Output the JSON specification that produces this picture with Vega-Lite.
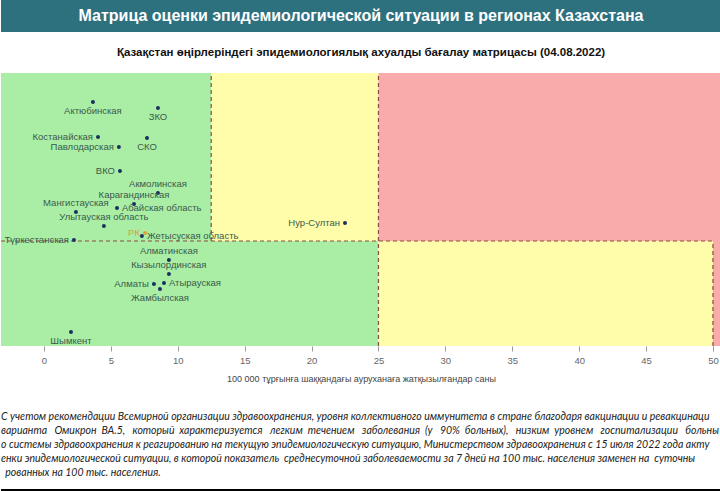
{
  "$schema": "https://vega.github.io/schema/vega-lite/v6.json",
  "padding": 0,
  "spacing": 0,
  "background": "white",
  "config": {"view": {"stroke": null}, "concat": {"spacing": 0}},
  "datasets": {
    "zones": [
      {"zone": "green", "x": -3.21, "x2": 12.5, "y": 21, "y2": 54.6},
      {"zone": "yellow", "x": 12.5, "x2": 25, "y": 21, "y2": 54.6},
      {"zone": "red", "x": 25, "x2": 50.6, "y": 21, "y2": 54.6},
      {"zone": "green", "x": -3.21, "x2": 25, "y": 0, "y2": 21},
      {"zone": "yellow", "x": 25, "x2": 50, "y": 0, "y2": 21},
      {"zone": "red", "x": 50, "x2": 50.6, "y": 0, "y2": 21}
    ],
    "rules": [
      {"x": 12.5, "x2": 12.5, "y": 21, "y2": 54.6},
      {"x": 25, "x2": 25, "y": 0, "y2": 54.6},
      {"x": -3.21, "x2": 50, "y": 21, "y2": 21},
      {"x": 50, "x2": 50, "y": 0, "y2": 21}
    ],
    "points": [
      {"name": "Актюбинская", "x": 3.66, "y": 48.8, "pos": "below", "kind": "region"},
      {"name": "ЗКО", "x": 8.52, "y": 47.6, "pos": "below", "kind": "region"},
      {"name": "Костанайская", "x": 4.04, "y": 41.8, "pos": "left", "kind": "region"},
      {"name": "Павлодарская", "x": 5.6, "y": 39.8, "pos": "left", "kind": "region"},
      {"name": "СКО", "x": 7.7, "y": 41.6, "pos": "below", "kind": "region"},
      {"name": "ВКО", "x": 5.68, "y": 35.0, "pos": "left", "kind": "region"},
      {"name": "Акмолинская", "x": 8.52, "y": 30.6, "pos": "above", "kind": "region"},
      {"name": "Карагандинская", "x": 6.73, "y": 28.4, "pos": "above", "kind": "region"},
      {"name": "Абайская область", "x": 5.46, "y": 27.6, "pos": "right", "kind": "region"},
      {"name": "Мангистауская", "x": 2.39, "y": 26.8, "pos": "above", "kind": "region"},
      {"name": "Улытауская область", "x": 4.48, "y": 24.0, "pos": "above", "kind": "region"},
      {"name": "Түркестанская", "x": 2.24, "y": 21.2, "pos": "left", "kind": "region"},
      {"name": "РК", "x": 7.55, "y": 22.6, "pos": "left", "kind": "rk"},
      {"name": "Жетысуская область", "x": 7.32, "y": 22.0, "pos": "right", "kind": "region"},
      {"name": "Алматинская", "x": 9.34, "y": 17.2, "pos": "above", "kind": "region"},
      {"name": "Кызылординская", "x": 9.34, "y": 14.4, "pos": "above", "kind": "region"},
      {"name": "Атырауская", "x": 8.97, "y": 12.6, "pos": "right", "kind": "region"},
      {"name": "Алматы", "x": 8.22, "y": 12.4, "pos": "left", "kind": "region"},
      {"name": "Жамбылская", "x": 8.67, "y": 11.4, "pos": "below", "kind": "region"},
      {"name": "Шымкент", "x": 2.02, "y": 2.8, "pos": "below", "kind": "region"},
      {"name": "Нур-Султан", "x": 22.5, "y": 24.6, "pos": "left", "kind": "region"}
    ],
    "footer": [
      {"line": 1, "x": 0, "t": "С учетом рекомендации Всемирной организации здравоохранения, уровня коллективного иммунитета в стране благодаря вакцинации и ревакцинаци"},
      {"line": 2, "x": 0, "t": "варианта \u00a0\u00a0Омикрон \u00a0ВА.5, \u00a0\u00a0который \u00a0характеризуется \u00a0\u00a0легким \u00a0течением \u00a0\u00a0заболевания \u00a0(у \u00a0\u00a090% \u00a0больных), \u00a0\u00a0низким \u00a0уровнем \u00a0\u00a0госпитализации \u00a0\u00a0больны"},
      {"line": 3, "x": 0, "t": "о системы здравоохранения к реагированию на текущую эпидемиологическую ситуацию, Министерством здравоохранения с 15 июля 2022 года акту"},
      {"line": 4, "x": 0, "t": "енки эпидемиологической ситуации, в которой показатель \u00a0среднесуточной заболеваемости за 7 дней на 100 тыс. населения заменен на \u00a0суточны"},
      {"line": 5, "x": 0.006, "t": "рованных на 100 тыс. населения."}
    ]
  },
  "vconcat": [
    {
      "width": 720,
      "height": 32,
      "view": {"fill": "#2d717f", "stroke": null},
      "data": {"values": [{"t": "Матрица оценки эпидемиологической ситуации в регионах Казахстана"}]},
      "mark": {"type": "text", "color": "white", "font": "Liberation Sans", "fontWeight": "bold", "fontSize": 16, "baseline": "middle", "align": "center"},
      "encoding": {"text": {"field": "t", "type": "nominal"}}
    },
    {
      "width": 720,
      "height": 14,
      "view": {"fill": "#ffffff", "stroke": null},
      "data": {"values": [{"t": ""}]},
      "mark": {"type": "text"},
      "encoding": {"text": {"field": "t", "type": "nominal"}}
    },
    {
      "width": 720,
      "height": 273,
      "title": {
        "text": "Қазақстан өңірлеріндегі эпидемиологиялық ахуалды бағалау матрицасы  (04.08.2022)",
        "font": "Liberation Sans",
        "fontSize": 11.5,
        "fontWeight": "bold",
        "color": "#111111",
        "anchor": "middle",
        "offset": 14
      },
      "encoding": {
        "x": {
          "field": "x",
          "type": "quantitative",
          "scale": {"domain": [-3.21, 50.6], "nice": false, "zero": false},
          "axis": {
            "values": [0, 5, 10, 15, 20, 25, 30, 35, 40, 45, 50],
            "grid": false,
            "domain": false,
            "ticks": true,
            "tickColor": "#999999",
            "tickSize": 5,
            "labelFont": "Liberation Sans",
            "labelFontSize": 9.5,
            "labelColor": "#666666",
            "labelPadding": 4,
            "title": "100 000 тұрғынға шаққандағы ауруханаға жатқызылғандар саны",
            "titleFont": "Liberation Sans",
            "titleFontSize": 9,
            "titleFontWeight": "normal",
            "titleColor": "#444444",
            "titlePadding": 10
          }
        },
        "y": {
          "field": "y",
          "type": "quantitative",
          "scale": {"domain": [0, 54.6], "nice": false, "zero": false},
          "axis": null
        }
      },
      "layer": [
        {
          "data": {"name": "zones"},
          "mark": {"type": "rect"},
          "encoding": {
            "x2": {"field": "x2"},
            "y2": {"field": "y2"},
            "color": {
              "field": "zone",
              "type": "nominal",
              "scale": {"domain": ["green", "yellow", "red"], "range": ["#aaeea6", "#fffdaa", "#f9aaaa"]},
              "legend": null
            }
          }
        },
        {
          "data": {"name": "rules"},
          "mark": {"type": "rule", "color": "#8b4b40", "strokeWidth": 1.2, "strokeDash": [4, 3]},
          "encoding": {
            "x2": {"field": "x2"},
            "y2": {"field": "y2"}
          }
        },
        {
          "data": {"name": "points"},
          "mark": {"type": "circle", "size": 16, "opacity": 1},
          "encoding": {
            "color": {"condition": {"test": "datum.kind === 'rk'", "value": "#e0a030"}, "value": "#1b2f5e"}
          }
        },
        {
          "data": {"name": "points"},
          "transform": [{"filter": "datum.pos === 'left'"}],
          "mark": {"type": "text", "align": "right", "baseline": "middle", "dx": -5, "font": "Liberation Sans", "fontSize": 9.5},
          "encoding": {
            "text": {"field": "name", "type": "nominal"},
            "color": {"condition": {"test": "datum.kind === 'rk'", "value": "#d9a040"}, "value": "#3a5a4c"}
          }
        },
        {
          "data": {"name": "points"},
          "transform": [{"filter": "datum.pos === 'right'"}],
          "mark": {"type": "text", "align": "left", "baseline": "middle", "dx": 5, "font": "Liberation Sans", "fontSize": 9.5, "color": "#3a5a4c"},
          "encoding": {"text": {"field": "name", "type": "nominal"}}
        },
        {
          "data": {"name": "points"},
          "transform": [{"filter": "datum.pos === 'above'"}],
          "mark": {"type": "text", "align": "center", "baseline": "middle", "dy": -9, "font": "Liberation Sans", "fontSize": 9.5, "color": "#3a5a4c"},
          "encoding": {"text": {"field": "name", "type": "nominal"}}
        },
        {
          "data": {"name": "points"},
          "transform": [{"filter": "datum.pos === 'below'"}],
          "mark": {"type": "text", "align": "center", "baseline": "middle", "dy": 9, "font": "Liberation Sans", "fontSize": 9.5, "color": "#3a5a4c"},
          "encoding": {"text": {"field": "name", "type": "nominal"}}
        }
      ]
    },
    {
      "width": 720,
      "height": 102,
      "data": {"name": "footer"},
      "mark": {"type": "text", "align": "left", "baseline": "middle", "font": "Lato", "fontStyle": "italic", "fontSize": 10.5, "color": "#222222"},
      "encoding": {
        "x": {"field": "x", "type": "quantitative", "scale": {"domain": [0, 1], "nice": false, "zero": false}, "axis": null},
        "y": {"field": "line", "type": "quantitative", "scale": {"domain": [-1.357, 5.929], "reverse": true, "nice": false, "zero": false}, "axis": null},
        "text": {"field": "t", "type": "nominal"}
      }
    },
    {
      "width": 720,
      "height": 6,
      "view": {"fill": "#000000", "stroke": null},
      "data": {"values": [{"t": ""}]},
      "mark": {"type": "text"},
      "encoding": {"text": {"field": "t", "type": "nominal"}}
    }
  ]
}
